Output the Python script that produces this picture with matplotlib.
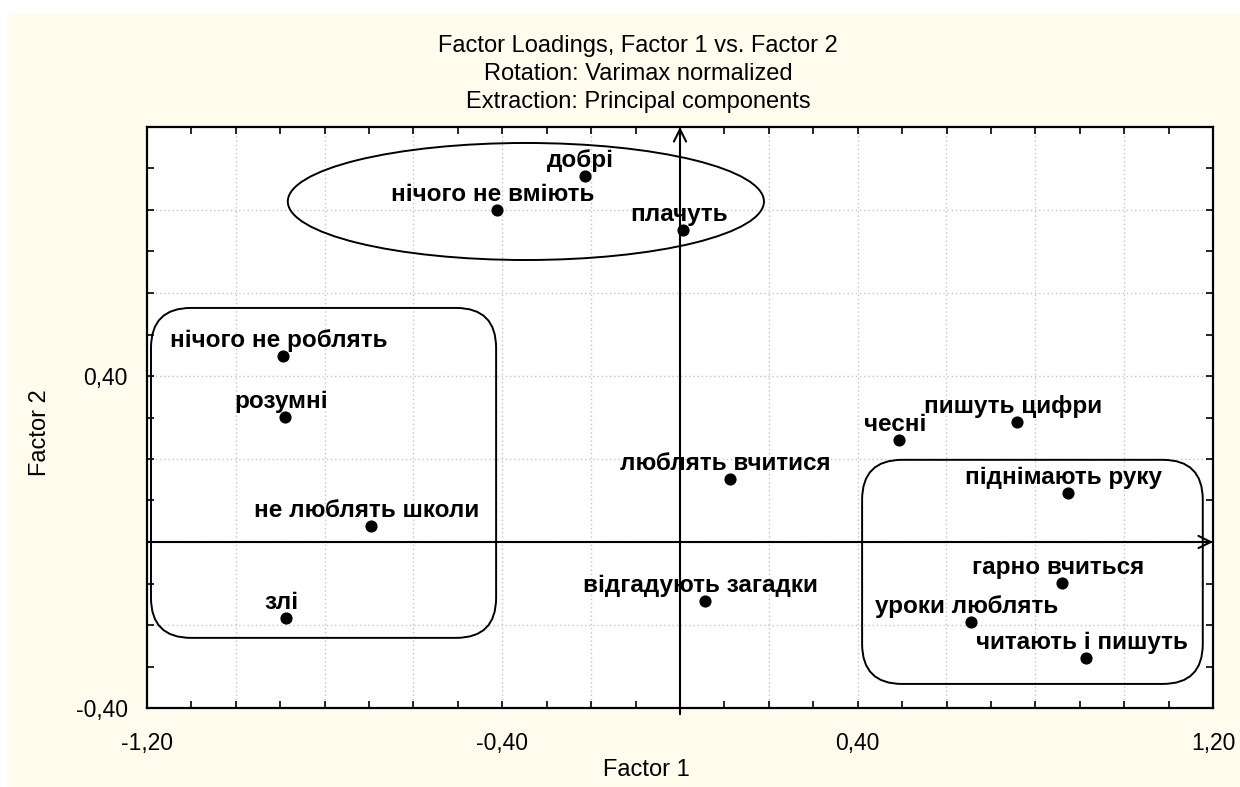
import numpy as np
import matplotlib
matplotlib.use("Agg")
import matplotlib.pyplot as plt
from matplotlib.patches import Ellipse, FancyBboxPatch, Rectangle
from matplotlib.ticker import FixedLocator, MultipleLocator

plt.rcParams['font.family'] = ['Liberation Sans', 'DejaVu Sans']

# ==========================================
# DATA (factor loadings)
# ==========================================
labels = ['добрі', 'нічого не вміють', 'плачуть', 'нічого не роблять', 'розумні',
          'не люблять школи', 'злі', 'люблять вчитися', 'відгадують загадки',
          'чесні', 'пишуть цифри', 'піднімають руку', 'гарно вчиться',
          'уроки люблять', 'читають і пишуть']
factor1 = [-0.214, -0.412, 0.007, -0.894, -0.889, -0.696, -0.887, 0.112, 0.056,
           0.493, 0.759, 0.873, 0.860, 0.655, 0.914]
factor2 = [0.882, 0.800, 0.752, 0.448, 0.301, 0.039, -0.183, 0.152, -0.142,
           0.246, 0.289, 0.118, -0.099, -0.193, -0.280]

xticks = [-1.2, -0.4, 0.4, 1.2]
xtick_labels = ['-1,20', '-0,40', '0,40', '1,20']
yticks = [-0.4, 0.4]
ytick_labels = ['-0,40', '0,40']

title_lines = ['Factor Loadings, Factor 1 vs. Factor 2',
               'Rotation: Varimax normalized',
               'Extraction: Principal components']

# group outlines (centre/size of ellipse, corners of rounded boxes)
ellipse_group = dict(xy=(-0.347, 0.8205), width=1.072, height=0.282)
box_left = (-1.191, -0.231, 0.777, 0.795)    # x0, y0, width, height
box_right = (0.410, -0.342, 0.767, 0.540)

# ==========================================
# PLOT
# ==========================================
fig = plt.figure(figsize=(12.4, 7.87), dpi=100, facecolor='white')
# cream background like the STATISTICA window
fig.patches.append(Rectangle((7 / 1240, 0), 1, 1 - 13 / 787, transform=fig.transFigure,
                             facecolor='#fffcee', edgecolor='none', zorder=-10))

ax = fig.add_axes([147 / 1240, 1 - 708 / 787, (1213 - 147) / 1240, (708 - 127) / 787])
ax.set_facecolor('white')
ax.set_xlim(-1.2, 1.2)
ax.set_ylim(-0.4, 1.0)

# dotted grid every 0.2
for gx in np.arange(-1.0, 1.01, 0.2):
    ax.axvline(gx, color='#c4c4c4', lw=1.0, linestyle=(0, (1, 2)), zorder=0)
for gy in np.arange(-0.2, 0.81, 0.2):
    ax.axhline(gy, color='#c4c4c4', lw=1.0, linestyle=(0, (1, 2)), zorder=0)

# ticks
ax.xaxis.set_major_locator(FixedLocator(xticks))
ax.set_xticklabels(xtick_labels)
ax.yaxis.set_major_locator(FixedLocator(yticks))
ax.set_yticklabels(ytick_labels)
ax.xaxis.set_minor_locator(MultipleLocator(0.1))
ax.yaxis.set_minor_locator(MultipleLocator(0.1))
ax.tick_params(which='both', direction='in', top=True, right=True, length=5, width=1.2)
ax.tick_params(axis='x', which='major', labelsize=16.5, pad=17)
ax.tick_params(axis='y', which='major', labelsize=16.5, pad=14)
for s in ax.spines.values():
    s.set_linewidth(1.6)

# axis arrows through the origin
ax.annotate('', xy=(1.2, 0), xytext=(-1.2, 0),
            arrowprops=dict(arrowstyle='->', lw=1.5, color='black', mutation_scale=22,
                            shrinkA=0, shrinkB=0))
ax.annotate('', xy=(0, 1.0), xytext=(0, -0.415),
            arrowprops=dict(arrowstyle='->', lw=1.5, color='black', mutation_scale=22,
                            shrinkA=0, shrinkB=0), annotation_clip=False)

# points + labels
ax.scatter(factor1, factor2, s=60, color='black', zorder=5)
for lab, x, y in zip(labels, factor1, factor2):
    ax.annotate(lab, (x, y), xytext=(-3, 6.5), textcoords='offset points',
                ha='center', va='baseline', fontsize=17.5, fontweight='bold', zorder=6)

# group outlines
ax.add_patch(Ellipse(fill=False, lw=1.4, color='black', **ellipse_group))
for bx in (box_left, box_right):
    ax.add_patch(FancyBboxPatch((bx[0], bx[1]), bx[2], bx[3],
                                boxstyle='round,pad=0,rounding_size=0.09',
                                mutation_aspect=1.07, fill=False, lw=1.4,
                                edgecolor='black'))

# titles and axis names
for i, line in enumerate(title_lines):
    fig.text(638 / 1240, 1 - (46 + 28 * i) / 787, line, ha='center', va='center', fontsize=17)
fig.text(646 / 1240, 1 - 770 / 787, 'Factor 1', ha='center', va='center', fontsize=17)
fig.text(40 / 1240, 1 - 433 / 787, 'Factor 2', ha='center', va='center', fontsize=17,
         rotation=90)

plt.savefig('out.png', dpi=100, facecolor=fig.get_facecolor())
